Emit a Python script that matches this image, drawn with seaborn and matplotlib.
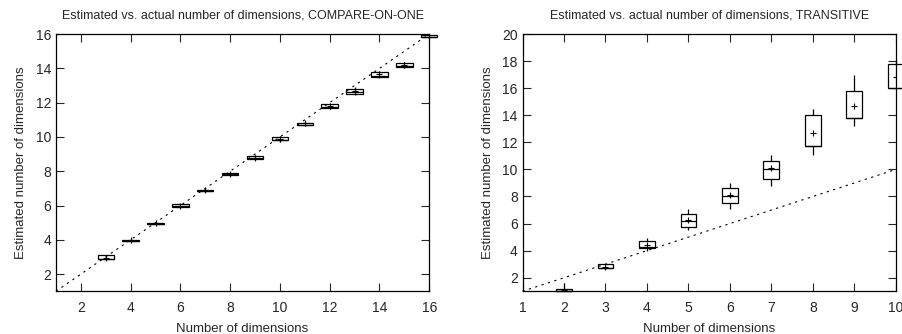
import numpy as np
import pandas as pd
import matplotlib.pyplot as plt
import seaborn as sns

# COMPARE-ON-ONE: [min, q1, median, q3, max] per dimension count
dims_one = [3, 4, 5, 6, 7, 8, 9, 10, 11, 12, 13, 14, 15, 16]
stats_one = [
    [2.85, 2.88, 2.9, 3.1, 3.1],
    [3.9, 3.93, 3.95, 4.0, 4.05],
    [4.9, 4.93, 4.95, 5.0, 5.05],
    [5.85, 5.9, 5.95, 6.1, 6.1],
    [6.8, 6.83, 6.85, 6.93, 7.0],
    [7.75, 7.8, 7.82, 7.9, 7.95],
    [8.65, 8.7, 8.75, 8.9, 8.95],
    [9.7, 9.8, 9.85, 10.0, 10.05],
    [10.65, 10.7, 10.72, 10.8, 10.95],
    [11.65, 11.7, 11.75, 11.9, 11.95],
    [12.45, 12.5, 12.6, 12.8, 12.9],
    [13.45, 13.5, 13.55, 13.8, 13.85],
    [14.05, 14.1, 14.15, 14.3, 14.35],
    [15.8, 15.8, 15.85, 15.95, 15.95],
]
means_one = [2.95, 3.97, 4.97, 5.97, 6.88, 7.85, 8.8, 9.9, 10.8, 11.8, 12.7, 13.7, 14.2, 15.85]
diag_one = [1, 16]

# TRANSITIVE
dims_tr = [2, 3, 4, 5, 6, 7, 8, 9, 10]
stats_tr = [
    [1.0, 1.0, 1.0, 1.15, 1.6],
    [2.7, 2.7, 2.75, 3.0, 3.0],
    [4.0, 4.18, 4.3, 4.72, 4.9],
    [5.5, 5.78, 6.2, 6.7, 7.1],
    [7.1, 7.49, 8.0, 8.6, 9.0],
    [8.8, 9.29, 10.0, 10.6, 11.1],
    [11.1, 11.7, 11.7, 14.0, 14.5],
    [13.2, 13.8, 13.8, 15.8, 16.95],
    [16.0, 16.05, 16.05, 17.8, 18.0],
]
means_tr = [1.1, 2.8, 4.4, 6.3, 8.1, 10.1, 12.7, 14.7, 16.8]
diag_tr = [1, 10]


def long_form(dims, stats):
    rows = []
    for d, s in zip(dims, stats):
        for v in s:
            rows.append({'dim': d, 'est': v})
    return pd.DataFrame(rows)


sns.set_theme(style='ticks')
plt.rcParams['font.family'] = ['Liberation Sans', 'DejaVu Sans']

fig, axes = plt.subplots(1, 2, figsize=(9.03, 3.34), dpi=100)
fig.subplots_adjust(left=0.062, right=0.992, top=0.898, bottom=0.128, wspace=0.25)

panels = [
    (axes[0], dims_one, stats_one, means_one, diag_one, 0.66,
     'Estimated vs. actual number of dimensions, COMPARE-ON-ONE',
     (1, 16), (1, 16), np.arange(2, 17, 2), np.arange(2, 17, 2)),
    (axes[1], dims_tr, stats_tr, means_tr, diag_tr, 0.38,
     'Estimated vs. actual number of dimensions, TRANSITIVE',
     (1, 10), (1, 20), np.arange(1, 11), np.arange(2, 21, 2)),
]

for ax, dims, stats, means, diag, w, title, xl, yl, xt, yt in panels:
    df = long_form(dims, stats)
    sns.boxplot(data=df, x='dim', y='est', native_scale=True, whis=np.inf,
                width=w, color='white', linecolor='black', linewidth=0.9,
                capprops=dict(linewidth=0), ax=ax)
    sns.scatterplot(x=dims, y=means, marker='+', color='black', s=18,
                    linewidth=0.8, ax=ax, zorder=5)
    sns.lineplot(x=diag, y=diag, color='black', linestyle=(0, (2, 4)),
                 linewidth=0.8, ax=ax)
    ax.set_xlim(*xl)
    ax.set_ylim(*yl)
    ax.set_xticks(xt)
    ax.set_yticks(yt)
    ax.set_title(title, fontsize=9, pad=11)
    ax.set_xlabel('Number of dimensions', fontsize=9.5, labelpad=6)
    ax.set_ylabel('Estimated number of dimensions', fontsize=9.5, labelpad=6)
    ax.tick_params(direction='in', top=True, right=True, length=6,
                   width=0.8, labelsize=10)
    ax.tick_params(axis='x', pad=7)
    for s in ax.spines.values():
        s.set_linewidth(0.9)
        s.set_color('black')
    # let boxes at the frame spill over it, as in the original
    for art in list(ax.patches) + list(ax.lines):
        art.set_clip_on(False)

fig.savefig('out.png', dpi=100)
